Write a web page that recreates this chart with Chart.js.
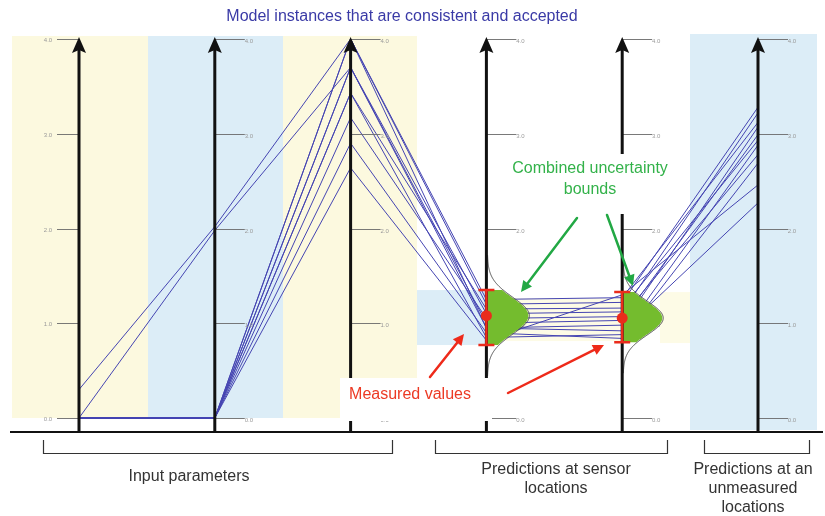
<!DOCTYPE html>
<html><head><meta charset="utf-8">
<script src="https://cdn.jsdelivr.net/npm/chart.js@4"></script>
<style>html,body{margin:0;padding:0;background:#fff;overflow:hidden}canvas{display:block}</style>
</head><body>
<canvas id="c" width="825" height="516"></canvas>
<script>
// Parallel axes: three input parameters, two sensor predictions, one unmeasured prediction
const axisNames = ['Input 1', 'Input 2', 'Input 3', 'Sensor 1', 'Sensor 2', 'Unmeasured'];
const tickValues = [0, 1, 2, 3, 4];
const tickLabels = ['0.0', '1.0', '2.0', '3.0', '4.0'];

// Each array holds one value per accepted model instance (same order in every array)
const input1     = [0.30, 0.00, 0.00, 0.00, 0.00, 0.00, 0.00, 0.00, 0.00, 0.00, 0.00];
const input2     = [2.02, 1.98, 0.00, 0.00, 0.00, 0.00, 0.00, 0.00, 0.00, 0.00, 0.00];
const input3     = [4.00, 3.70, 4.00, 4.00, 3.70, 3.43, 3.43, 3.17, 2.90, 2.64, 3.70];
const sensor1    = [1.20, 1.10, 1.25, 0.95, 1.00, 1.15, 0.85, 1.05, 0.90, 0.82, 0.95];
const sensor2    = [1.22, 1.12, 1.27, 0.98, 1.03, 1.16, 0.88, 1.07, 0.84, 1.30, 0.92];
const unmeasured = [3.28, 3.22, 3.12, 3.07, 2.99, 2.93, 2.88, 2.78, 2.69, 2.46, 2.27];

// Measurements on the two sensor axes with their combined uncertainty bounds
const sensorAxes    = [3, 4];
const measuredValue = [1.08, 1.055];
const boundLow      = [0.77, 0.80];
const boundHigh     = [1.35, 1.33];

const axisValues = [input1, input2, input3, sensor1, sensor2, unmeasured];

const LINE_COLOR = '#4545b2';
const datasets = input1.map((_, k) => ({
  data: axisValues.map((arr, i) => ({ x: i, y: arr[k] })),
  showLine: true,
  borderColor: LINE_COLOR,
  borderWidth: 1,
  pointRadius: 0,
  tension: 0,
  fill: false
}));

// Axis spacing and vertical scale used to frame the plot area
const AX0 = 79, AXSTEP = 135.8, W = 825, H = 516;
const Y0 = 418, YUNIT = 94.75;

function arrow(ctx, x1, y1, x2, y2, color, lw, head) {
  const a = Math.atan2(y2 - y1, x2 - x1);
  ctx.save();
  ctx.strokeStyle = color; ctx.fillStyle = color; ctx.lineWidth = lw; ctx.lineCap = 'round';
  ctx.beginPath();
  ctx.moveTo(x1, y1);
  ctx.lineTo(x2 - Math.cos(a) * head * 0.8, y2 - Math.sin(a) * head * 0.8);
  ctx.stroke();
  ctx.beginPath();
  ctx.moveTo(x2, y2);
  ctx.lineTo(x2 - head * Math.cos(a) + head * 0.5 * Math.sin(a), y2 - head * Math.sin(a) - head * 0.5 * Math.cos(a));
  ctx.lineTo(x2 - head * Math.cos(a) - head * 0.5 * Math.sin(a), y2 - head * Math.sin(a) + head * 0.5 * Math.cos(a));
  ctx.closePath();
  ctx.fill();
  ctx.restore();
}

function text(ctx, str, x, y, size, color, align) {
  ctx.save();
  ctx.font = size + 'px "Liberation Sans", Arial, sans-serif';
  ctx.fillStyle = color;
  ctx.textAlign = align || 'center';
  ctx.textBaseline = 'middle';
  ctx.fillText(str, x, y);
  ctx.restore();
}

const backdrop = {
  id: 'backdrop',
  beforeDatasetsDraw(chart) {
    const ctx = chart.ctx;
    ctx.save();
    const Y = chart.scales.y;
    const yTop = 36, yBot = Y.getPixelForValue(0);
    // column bands
    ctx.fillStyle = '#fcf9df'; ctx.fillRect(12, yTop, 136, yBot - yTop);
    ctx.fillStyle = '#dcedf7'; ctx.fillRect(148, yTop, 135, yBot - yTop);
    ctx.fillStyle = '#fcf9df'; ctx.fillRect(283, yTop, 134, yBot - yTop);
    ctx.fillStyle = '#dcedf7'; ctx.fillRect(690, 34, 127, 396);
    // narrow bands around the measured window
    const bTop = Y.getPixelForValue(boundHigh[0]), bBot = Y.getPixelForValue(boundLow[0]);
    ctx.fillStyle = '#dcedf7'; ctx.fillRect(417, bTop, 69, bBot - bTop);
    ctx.fillStyle = '#fdfbe6'; ctx.fillRect(490, bTop + 8, 130, bBot - bTop - 12);
    ctx.fillStyle = '#fdfbe6'; ctx.fillRect(660, bTop + 2, 30, bBot - bTop - 4);
    ctx.restore();
  },
  afterDatasetsDraw(chart) {
    const ctx = chart.ctx;
    const X = chart.scales.x, Y = chart.scales.y;
    ctx.save();

    // tick marks and small tick labels on each axis
    ctx.strokeStyle = '#6a6a6a'; ctx.lineWidth = 0.9;
    axisNames.forEach((_, i) => {
      const x = X.getPixelForValue(i);
      tickValues.forEach((t, n) => {
        const y = Math.round(Y.getPixelForValue(t)) + 0.5;
        ctx.beginPath();
        if (i === 0) { ctx.moveTo(x - 22, y); ctx.lineTo(x, y); }
        else { ctx.moveTo(x, y); ctx.lineTo(x + 30, y); }
        ctx.stroke();
        if (i === 0) text(ctx, tickLabels[n], x - 31, y + 1, 6, '#9a9a9a');
        else text(ctx, tickLabels[n], x + 34, y + 2, 6, '#9a9a9a');
      });
    });

    // gaussian uncertainty shapes and measurement error bars
    sensorAxes.forEach((ai, j) => {
      const x = X.getPixelForValue(ai);
      const mu = measuredValue[j];
      const s = (boundHigh[j] - boundLow[j]) / 3;
      const peak = j === 0 ? 42 : 40;
      const g = v => peak * Math.exp(-((v - mu) ** 2) / (2 * s * s));
      // filled part between the bounds
      ctx.beginPath();
      ctx.moveTo(x, Y.getPixelForValue(boundHigh[j]));
      for (let v = boundHigh[j]; v >= boundLow[j] - 1e-9; v -= 0.005) {
        ctx.lineTo(x + g(v), Y.getPixelForValue(v));
      }
      ctx.lineTo(x, Y.getPixelForValue(boundLow[j]));
      ctx.closePath();
      ctx.fillStyle = '#74bc2e';
      ctx.fill();
      // outline including tails
      ctx.beginPath();
      let first = true;
      for (let v = mu + 3.3 * s; v >= mu - 3.3 * s; v -= 0.005) {
        const px = x + g(v) + 1, py = Y.getPixelForValue(v);
        if (first) { ctx.moveTo(px, py); first = false; } else ctx.lineTo(px, py);
      }
      ctx.strokeStyle = '#4a4a4a'; ctx.lineWidth = 1;
      ctx.stroke();
    });

    // axes with arrow heads
    ctx.fillStyle = '#111'; ctx.strokeStyle = '#111';
    const base = 432;
    axisNames.forEach((_, i) => {
      const x = X.getPixelForValue(i);
      ctx.lineWidth = 3;
      ctx.beginPath(); ctx.moveTo(x, base); ctx.lineTo(x, 48); ctx.stroke();
      ctx.beginPath();
      ctx.moveTo(x, 37); ctx.lineTo(x - 7, 53); ctx.lineTo(x, 50); ctx.lineTo(x + 7, 53);
      ctx.closePath(); ctx.fill();
    });
    // baseline
    ctx.lineWidth = 2;
    ctx.beginPath(); ctx.moveTo(10, base); ctx.lineTo(823, base); ctx.stroke();

    // red error bars with measured values
    sensorAxes.forEach((ai, j) => {
      const x = X.getPixelForValue(ai);
      const yh = Y.getPixelForValue(boundHigh[j]), yl = Y.getPixelForValue(boundLow[j]);
      const ym = Y.getPixelForValue(measuredValue[j]);
      ctx.strokeStyle = '#ea2c1c'; ctx.lineWidth = 2.5;
      ctx.beginPath();
      ctx.moveTo(x, yh); ctx.lineTo(x, yl);
      ctx.moveTo(x - 8, yh); ctx.lineTo(x + 8, yh);
      ctx.moveTo(x - 8, yl); ctx.lineTo(x + 8, yl);
      ctx.stroke();
      ctx.fillStyle = '#ea2c1c';
      ctx.beginPath(); ctx.arc(x, ym, 5.5, 0, Math.PI * 2); ctx.fill();
    });

    // white boxes behind annotations
    ctx.fillStyle = '#ffffff';
    ctx.fillRect(340, 378, 152, 43);
    ctx.fillRect(502, 154, 138, 60);

    // brackets under the axes
    ctx.strokeStyle = '#333'; ctx.lineWidth = 1.2;
    [[43, 392], [435, 667], [704, 809]].forEach(([a, b]) => {
      ctx.beginPath();
      ctx.moveTo(a + 0.5, 440); ctx.lineTo(a + 0.5, 453.5); ctx.lineTo(b + 0.5, 453.5); ctx.lineTo(b + 0.5, 440);
      ctx.stroke();
    });

    // labels
    text(ctx, 'Model instances that are consistent and accepted', 402, 17, 16, '#3a3aa6');
    text(ctx, 'Input parameters', 189, 477, 16, '#333');
    text(ctx, 'Predictions at sensor', 556, 470, 16, '#333');
    text(ctx, 'locations', 556, 489, 16, '#333');
    text(ctx, 'Predictions at an', 753, 470, 16, '#333');
    text(ctx, 'unmeasured', 753, 489, 16, '#333');
    text(ctx, 'locations', 753, 508, 16, '#333');
    text(ctx, 'Measured values', 410, 395, 16, '#ec3a24');
    text(ctx, 'Combined uncertainty', 590, 169, 16, '#33b24a');
    text(ctx, 'bounds', 590, 190, 16, '#33b24a');

    // pointers
    arrow(ctx, 577, 218, 521, 292, '#22a844', 2.5, 11);
    arrow(ctx, 607, 215, 633, 286, '#22a844', 2.5, 11);
    arrow(ctx, 430, 377, 464, 334, '#ee2a1a', 2.5, 11);
    arrow(ctx, 508, 393, 604, 345, '#ee2a1a', 2.5, 11);

    ctx.restore();
  }
};

new Chart(document.getElementById('c'), {
  type: 'scatter',
  data: { datasets },
  options: {
    responsive: false,
    animation: false,
    devicePixelRatio: 1,
    layout: { padding: 0 },
    plugins: { legend: { display: false }, tooltip: { enabled: false }, title: { display: false } },
    scales: {
      x: { type: 'linear', display: false, min: -AX0 / AXSTEP, max: (W - AX0) / AXSTEP },
      y: { type: 'linear', display: false, min: -(H - Y0) / YUNIT, max: Y0 / YUNIT }
    }
  },
  plugins: [backdrop]
});
</script>
</body></html>
